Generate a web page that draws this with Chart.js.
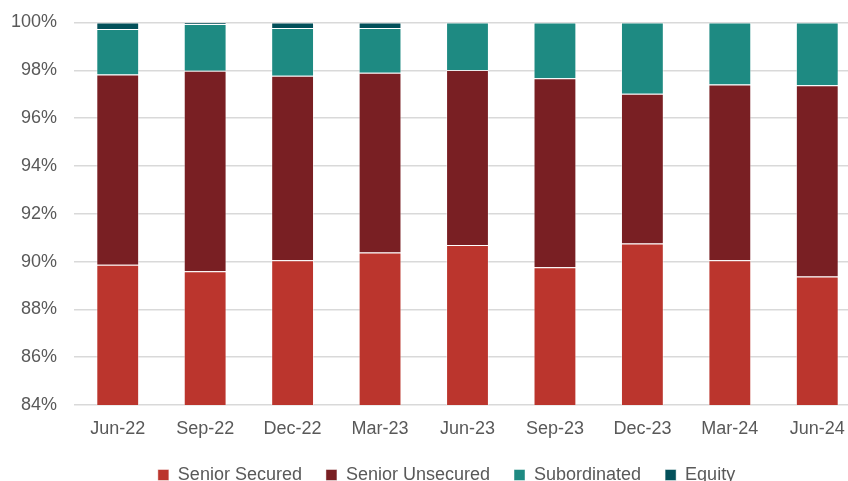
<!DOCTYPE html>
<html>
<head>
<meta charset="utf-8">
<script src="https://cdn.jsdelivr.net/npm/chart.js@4/dist/chart.umd.min.js"></script>
<style>
  html, body { margin: 0; padding: 0; background: #fff; overflow: hidden; }
  #wrap { width: 870px; height: 481px; }
</style>
</head>
<body>
<div id="wrap"><canvas id="mix"></canvas></div>
<script>
const quarters = ['Jun-22', 'Sep-22', 'Dec-22', 'Mar-23', 'Jun-23', 'Sep-23', 'Dec-23', 'Mar-24', 'Jun-24'];

// share of portfolio, %
const seniorSecured = [89.87, 89.59, 90.05, 90.38, 90.69, 89.76, 90.76, 90.05, 89.38];
const seniorUnsecured = [7.96, 8.39, 7.72, 7.52, 7.32, 7.91, 6.26, 7.36, 7.99];
const subordinated = [1.90, 1.96, 2.00, 1.87, 1.99, 2.33, 2.98, 2.59, 2.63];
const equity = [0.27, 0.06, 0.23, 0.23, 0, 0, 0, 0, 0];

const yTicks = [84, 86, 88, 90, 92, 94, 96, 98, 100];

const seriesColors = ['#bb352d', '#791f23', '#1e8a82', '#03505a'];

Chart.defaults.font.family = "'Liberation Sans', Arial, sans-serif";
Chart.defaults.font.size = 18;
Chart.defaults.color = '#595959';

const makeSet = (label, data, i) => ({
  label,
  data,
  backgroundColor: seriesColors[i],
  borderColor: 'rgba(255, 255, 255, 0.45)',
  borderWidth: 1,
  categoryPercentage: 1,
  barPercentage: 0.49,
});

// legend sits a little right of the canvas centre
const legendShift = {
  id: 'legendShift',
  afterLayout(chart) {
    const lg = chart.legend;
    lg.left += 16;
    lg.right += 16;
  },
};

new Chart(document.getElementById('mix'), {
  type: 'bar',
  data: {
    labels: quarters,
    datasets: [
      makeSet('Senior Secured', seniorSecured, 0),
      makeSet('Senior Unsecured', seniorUnsecured, 1),
      makeSet('Subordinated', subordinated, 2),
      makeSet('Equity', equity, 3),
    ],
  },
  plugins: [legendShift],
  options: {
    responsive: true,
    maintainAspectRatio: false,
    animation: false,
    layout: { padding: { left: 0, right: 9, top: 22.5, bottom: -13 } },
    plugins: {
      tooltip: { enabled: false },
      legend: {
        position: 'bottom',
        labels: { boxWidth: 11, boxHeight: 11, padding: 24, color: '#595959' },
      },
    },
    scales: {
      x: {
        stacked: true,
        grid: { display: false, drawTicks: false },
        border: { display: false },
        ticks: { padding: 13, maxRotation: 0 },
        afterFit: (scale) => { scale.height = 37; },
      },
      y: {
        stacked: true,
        min: yTicks[0],
        max: yTicks[yTicks.length - 1],
        afterBuildTicks: (scale) => { scale.ticks = yTicks.map((v) => ({ value: v })); },
        grid: { color: '#d9d9d9', lineWidth: 1.5, drawTicks: false },
        border: { display: false },
        ticks: { padding: 17, callback: (v) => v + '%' },
        afterFit: (scale) => {
          scale.width = 74;
          // top label may overhang; the layout padding already leaves room
          scale.paddingTop = 0;
          scale.paddingBottom = 0;
        },
      },
    },
  },
});
</script>
</body>
</html>
